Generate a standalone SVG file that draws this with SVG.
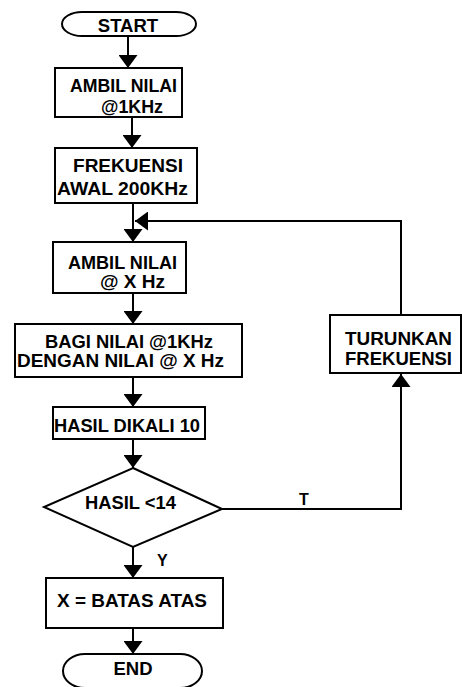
<svg xmlns="http://www.w3.org/2000/svg" width="462" height="687" viewBox="0 0 462 687">
<style>
.shape{fill:#fff;stroke:#000;stroke-width:2}
.t{font-family:"Liberation Sans",Arial,sans-serif;font-weight:bold;font-size:18.5px;fill:#000}
.lbl{font-family:"Liberation Sans",Arial,sans-serif;font-weight:bold;font-size:16px;fill:#000}
.c{fill:none;stroke:#000;stroke-width:2}
</style>
<defs>
<marker id="ah" markerUnits="userSpaceOnUse" markerWidth="13" markerHeight="19" viewBox="0 0 13 19" refX="13" refY="9.5" orient="auto">
<path d="M0,0 L13,9.5 L0,19 Z" fill="#000"/>
</marker>
</defs>
<rect width="462" height="687" fill="#fff"/>
<g id="connectors">
<path class="c" d="M128,36 V68" marker-end="url(#ah)"/>
<path class="c" d="M132,117 V148" marker-end="url(#ah)"/>
<path class="c" d="M133,203 V242" marker-end="url(#ah)"/>
<path class="c" d="M401,315 V221 H135" marker-end="url(#ah)"/>
<path class="c" d="M133,293 V324" marker-end="url(#ah)"/>
<path class="c" d="M133,377 V407" marker-end="url(#ah)"/>
<path class="c" d="M133,439 V468" marker-end="url(#ah)"/>
<path class="c" d="M133,547 V578" marker-end="url(#ah)"/>
<path class="c" d="M133,628 V654" marker-end="url(#ah)"/>
<path class="c" d="M222,509 H401 V374" marker-end="url(#ah)"/>
<text class="lbl" x="299" y="505">T</text>
<text class="lbl" x="157" y="566">Y</text>
</g>
<g id="start">
<rect class="shape" x="62" y="12" width="134" height="24" rx="20" ry="12"/>
<text class="t" x="128" y="32" text-anchor="middle">START</text>
</g>
<g id="ambil1">
<rect class="shape" x="55" y="68" width="127" height="49"/>
<text class="t" x="70" y="92" textLength="107" lengthAdjust="spacingAndGlyphs">AMBIL NILAI</text>
<text class="t" x="101" y="113" textLength="62" lengthAdjust="spacingAndGlyphs">@1KHz</text>
</g>
<g id="frekuensi_awal">
<rect class="shape" x="55" y="148" width="142" height="55"/>
<text class="t" x="73" y="172" textLength="110" lengthAdjust="spacingAndGlyphs">FREKUENSI</text>
<text class="t" x="57" y="195" textLength="131" lengthAdjust="spacingAndGlyphs">AWAL 200KHz</text>
</g>
<g id="ambilx">
<rect class="shape" x="53" y="242" width="133" height="51"/>
<text class="t" x="68" y="269" textLength="109" lengthAdjust="spacingAndGlyphs">AMBIL NILAI</text>
<text class="t" x="100" y="288" textLength="65" lengthAdjust="spacingAndGlyphs">@ X Hz</text>
</g>
<g id="bagi">
<rect class="shape" x="15" y="324" width="227" height="53"/>
<text class="t" x="45" y="348" textLength="168" lengthAdjust="spacingAndGlyphs">BAGI NILAI @1KHz</text>
<text class="t" x="17" y="367" textLength="207" lengthAdjust="spacingAndGlyphs">DENGAN NILAI @ X Hz</text>
</g>
<g id="hasil_dikali">
<rect class="shape" x="53" y="407" width="152" height="32"/>
<text class="t" x="54" y="432" textLength="146" lengthAdjust="spacingAndGlyphs">HASIL DIKALI 10</text>
</g>
<g id="decision">
<polygon class="shape" points="133,468 222,509 133,547 44,507"/>
<text class="t" x="85" y="509" textLength="91" lengthAdjust="spacingAndGlyphs">HASIL &lt;14</text>
</g>
<g id="turunkan">
<rect class="shape" x="330" y="315" width="131" height="58"/>
<text class="t" x="345" y="345" textLength="107" lengthAdjust="spacingAndGlyphs">TURUNKAN</text>
<text class="t" x="345" y="365" textLength="107" lengthAdjust="spacingAndGlyphs">FREKUENSI</text>
</g>
<g id="batas">
<rect class="shape" x="46" y="578" width="177" height="50"/>
<text class="t" x="57" y="607" textLength="150" lengthAdjust="spacingAndGlyphs">X = BATAS ATAS</text>
</g>
<g id="end">
<rect class="shape" x="63" y="654" width="139" height="34" rx="22" ry="17"/>
<text class="t" x="133" y="675" text-anchor="middle">END</text>
</g>
</svg>
